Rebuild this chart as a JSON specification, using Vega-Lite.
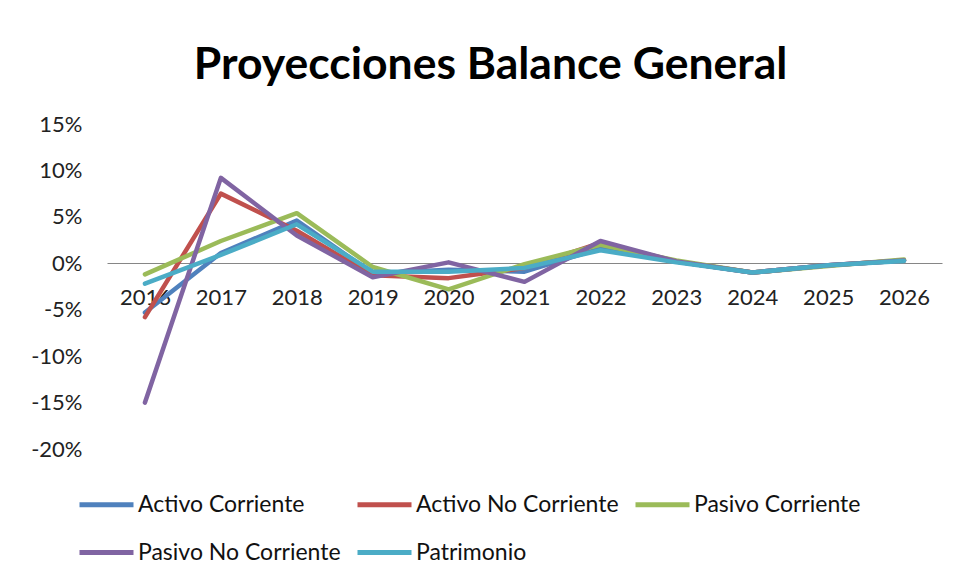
{
  "$schema": "https://vega.github.io/schema/vega-lite/v6.json",
  "width": 835,
  "height": 325,
  "autosize": {"type": "none"},
  "padding": {"left": 107, "top": 124, "right": 14, "bottom": 133},
  "background": "white",
  "title": {
    "text": "Proyecciones Balance General",
    "font": "Lato",
    "fontWeight": "bold",
    "fontSize": 44.5,
    "color": "#000000",
    "anchor": "middle",
    "dx": -34,
    "offset": 25
  },
  "data": {
    "values": [
      {"anio": "2016", "serie": "Activo Corriente", "valor": -0.053},
      {"anio": "2017", "serie": "Activo Corriente", "valor": 0.011},
      {"anio": "2018", "serie": "Activo Corriente", "valor": 0.046},
      {"anio": "2019", "serie": "Activo Corriente", "valor": -0.011},
      {"anio": "2020", "serie": "Activo Corriente", "valor": -0.007},
      {"anio": "2021", "serie": "Activo Corriente", "valor": -0.009},
      {"anio": "2022", "serie": "Activo Corriente", "valor": 0.016},
      {"anio": "2023", "serie": "Activo Corriente", "valor": 0.002},
      {"anio": "2024", "serie": "Activo Corriente", "valor": -0.010},
      {"anio": "2025", "serie": "Activo Corriente", "valor": -0.002},
      {"anio": "2026", "serie": "Activo Corriente", "valor": 0.003},

      {"anio": "2016", "serie": "Activo No Corriente", "valor": -0.058},
      {"anio": "2017", "serie": "Activo No Corriente", "valor": 0.075},
      {"anio": "2018", "serie": "Activo No Corriente", "valor": 0.035},
      {"anio": "2019", "serie": "Activo No Corriente", "valor": -0.013},
      {"anio": "2020", "serie": "Activo No Corriente", "valor": -0.016},
      {"anio": "2021", "serie": "Activo No Corriente", "valor": -0.005},
      {"anio": "2022", "serie": "Activo No Corriente", "valor": 0.022},
      {"anio": "2023", "serie": "Activo No Corriente", "valor": 0.002},
      {"anio": "2024", "serie": "Activo No Corriente", "valor": -0.010},
      {"anio": "2025", "serie": "Activo No Corriente", "valor": -0.002},
      {"anio": "2026", "serie": "Activo No Corriente", "valor": 0.003},

      {"anio": "2016", "serie": "Pasivo Corriente", "valor": -0.012},
      {"anio": "2017", "serie": "Pasivo Corriente", "valor": 0.024},
      {"anio": "2018", "serie": "Pasivo Corriente", "valor": 0.054},
      {"anio": "2019", "serie": "Pasivo Corriente", "valor": -0.004},
      {"anio": "2020", "serie": "Pasivo Corriente", "valor": -0.028},
      {"anio": "2021", "serie": "Pasivo Corriente", "valor": -0.001},
      {"anio": "2022", "serie": "Pasivo Corriente", "valor": 0.020},
      {"anio": "2023", "serie": "Pasivo Corriente", "valor": 0.003},
      {"anio": "2024", "serie": "Pasivo Corriente", "valor": -0.010},
      {"anio": "2025", "serie": "Pasivo Corriente", "valor": -0.003},
      {"anio": "2026", "serie": "Pasivo Corriente", "valor": 0.004},

      {"anio": "2016", "serie": "Pasivo No Corriente", "valor": -0.150},
      {"anio": "2017", "serie": "Pasivo No Corriente", "valor": 0.092},
      {"anio": "2018", "serie": "Pasivo No Corriente", "valor": 0.030},
      {"anio": "2019", "serie": "Pasivo No Corriente", "valor": -0.015},
      {"anio": "2020", "serie": "Pasivo No Corriente", "valor": 0.001},
      {"anio": "2021", "serie": "Pasivo No Corriente", "valor": -0.020},
      {"anio": "2022", "serie": "Pasivo No Corriente", "valor": 0.024},
      {"anio": "2023", "serie": "Pasivo No Corriente", "valor": 0.002},
      {"anio": "2024", "serie": "Pasivo No Corriente", "valor": -0.010},
      {"anio": "2025", "serie": "Pasivo No Corriente", "valor": -0.002},
      {"anio": "2026", "serie": "Pasivo No Corriente", "valor": 0.003},

      {"anio": "2016", "serie": "Patrimonio", "valor": -0.022},
      {"anio": "2017", "serie": "Patrimonio", "valor": 0.009},
      {"anio": "2018", "serie": "Patrimonio", "valor": 0.042},
      {"anio": "2019", "serie": "Patrimonio", "valor": -0.009},
      {"anio": "2020", "serie": "Patrimonio", "valor": -0.009},
      {"anio": "2021", "serie": "Patrimonio", "valor": -0.005},
      {"anio": "2022", "serie": "Patrimonio", "valor": 0.014},
      {"anio": "2023", "serie": "Patrimonio", "valor": 0.001},
      {"anio": "2024", "serie": "Patrimonio", "valor": -0.010},
      {"anio": "2025", "serie": "Patrimonio", "valor": -0.002},
      {"anio": "2026", "serie": "Patrimonio", "valor": 0.0025}
    ]
  },
  "mark": {"type": "line", "strokeWidth": 4.5, "strokeCap": "round", "strokeJoin": "round"},
  "encoding": {
    "x": {
      "field": "anio",
      "type": "ordinal",
      "scale": {"type": "point", "padding": 0.5},
      "axis": {
        "title": null,
        "offset": -186,
        "domain": true,
        "domainColor": "#868686",
        "domainWidth": 1,
        "ticks": false,
        "labelAngle": 0,
        "labelFont": "Lato",
        "labelFontSize": 22,
        "labelColor": "#222222",
        "labelPadding": 24,
        "grid": false
      }
    },
    "y": {
      "field": "valor",
      "type": "quantitative",
      "scale": {"domain": [-0.2, 0.15], "nice": false, "zero": false},
      "axis": {
        "title": null,
        "values": [-0.2, -0.15, -0.1, -0.05, 0, 0.05, 0.1, 0.15],
        "labelExpr": "replace(format(datum.value, '.0%'), '\u2212', '-')",
        "domain": false,
        "ticks": false,
        "grid": false,
        "labelFont": "Lato",
        "labelFontSize": 22,
        "labelColor": "#222222",
        "labelPadding": 25
      }
    },
    "color": {
      "field": "serie",
      "type": "nominal",
      "scale": {
        "domain": ["Activo Corriente", "Activo No Corriente", "Pasivo Corriente", "Pasivo No Corriente", "Patrimonio"],
        "range": ["#4F81BD", "#C0504D", "#9BBB59", "#8064A2", "#4BACC6"]
      },
      "legend": {
        "title": null,
        "orient": "none",
        "legendX": -30,
        "legendY": 351,
        "direction": "horizontal",
        "columns": 3,
        "gridAlign": "all",
        "columnPadding": 6,
        "rowPadding": 6,
        "padding": 0,
        "symbolType": "stroke",
        "symbolSize": 2916,
        "symbolStrokeWidth": 5,
        "labelOffset": 2,
        "labelFont": "Lato",
        "labelFontSize": 23,
        "labelColor": "#111111",
        "labelLimit": 400
      }
    }
  },
  "config": {
    "view": {"stroke": null}
  }
}
